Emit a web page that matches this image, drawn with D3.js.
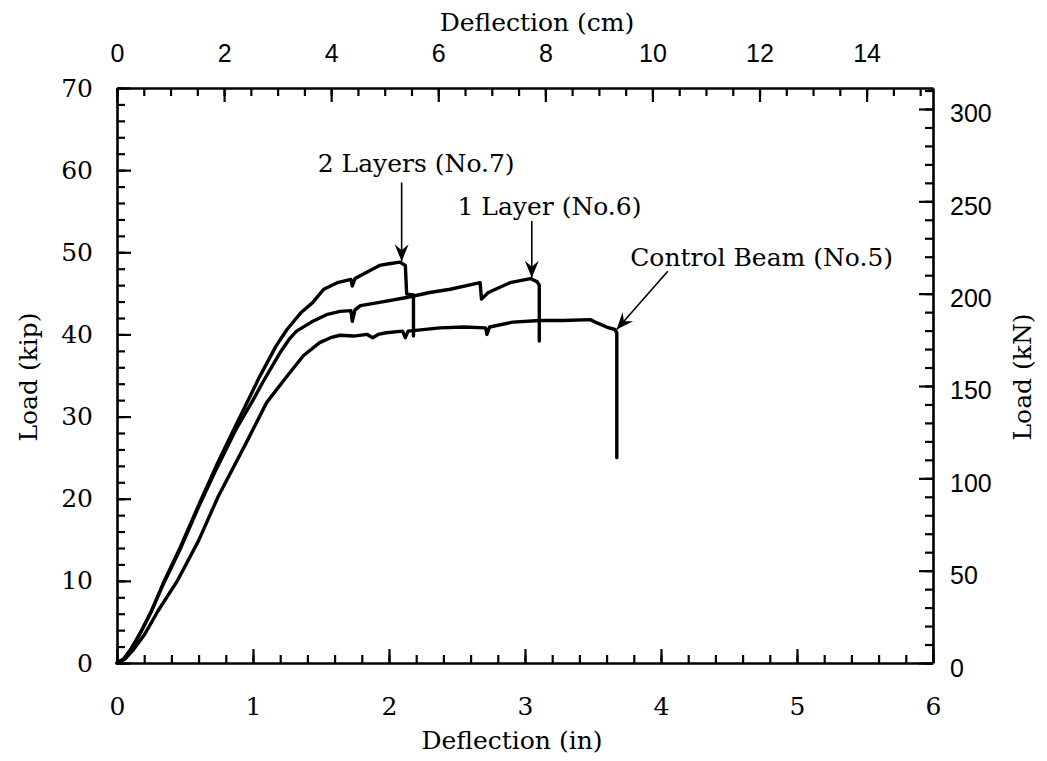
<!DOCTYPE html>
<meta charset="UTF-8">
<style>
body { margin: 0; background: #fff; }
.axis path.domain { stroke: #000; stroke-width: 2.6px; }
.axis line { stroke: #000; stroke-width: 2.2px; }
.serif text, text.serif { font-family: "DejaVu Serif", serif; font-size: 25px; fill: #000; }
.sans text { font-family: "Liberation Sans", Arial, sans-serif; font-size: 25px; fill: #000; }
.curve { fill: none; stroke: #000; stroke-width: 3.4px; stroke-linejoin: round; stroke-linecap: round; }
.arrow line { stroke: #000; stroke-width: 1.6px; }
</style>
<body>
<script src="https://d3js.org/d3.v7.min.js"></script>
<script>
// tick labels
var inTicks = [0, 1, 2, 3, 4, 5, 6];
var cmTicks = [0, 2, 4, 6, 8, 10, 12, 14];
var kipTicks = [0, 10, 20, 30, 40, 50, 60, 70];
var kNTicks = [0, 50, 100, 150, 200, 250, 300];

// load-deflection curves, [deflection (in), load (kip)]
var controlBeam = [[0,0],[0.06,0.5],[0.12,1.6],[0.2,3.4],[0.3,6.3],[0.44,9.9],[0.6,14.9],[0.745,20.3],
  [0.95,26.8],[1.10,31.7],[1.25,34.9],[1.37,37.4],[1.49,39.0],[1.57,39.6],[1.64,39.9],[1.74,39.8],
  [1.84,40.0],[1.88,39.6],[1.92,40.0],[1.98,40.2],[2.10,40.4],[2.12,39.6],[2.14,40.4],[2.375,40.8],
  [2.55,40.9],[2.71,40.8],[2.72,40.0],[2.74,40.9],[2.91,41.5],[3.11,41.7],[3.28,41.7],[3.48,41.8],
  [3.53,41.4],[3.60,40.9],[3.66,40.6],[3.675,40.2],[3.675,25.0]];

var oneLayer = [[0,0],[0.05,0.5],[0.1,1.6],[0.17,3.6],[0.25,6.2],[0.34,9.6],[0.46,13.7],[0.6,19.0],
  [0.73,23.6],[0.88,28.6],[1.0,32.0],[1.076,34.3],[1.14,36.1],[1.20,37.8],[1.27,39.5],[1.32,40.4],
  [1.39,41.1],[1.44,41.6],[1.54,42.4],[1.64,42.8],[1.72,42.9],[1.73,41.6],[1.75,43.0],[1.79,43.5],
  [1.93,43.9],[2.13,44.5],[2.30,45.1],[2.45,45.5],[2.67,46.3],[2.68,44.3],[2.73,45.1],[2.89,46.3],
  [3.04,46.8],[3.09,46.4],[3.105,46.0],[3.105,39.2]];

var twoLayers = [[0,0],[0.05,0.5],[0.1,1.6],[0.17,3.6],[0.25,6.2],[0.34,9.7],[0.46,13.9],[0.6,19.2],
  [0.73,24.0],[0.855,28.3],[0.95,31.5],[1.05,34.9],[1.17,38.6],[1.25,40.6],[1.30,41.6],[1.35,42.6],
  [1.44,43.9],[1.52,45.5],[1.62,46.3],[1.72,46.7],[1.73,45.9],[1.75,46.8],[1.84,47.6],[1.93,48.4],
  [2.0,48.6],[2.08,48.8],[2.12,48.4],[2.13,44.9],[2.18,44.8],[2.18,39.8]];

// callouts: label, label centre, arrow tail and tip (deflection in, load kip)
var callouts = [
  {text: "2 Layers (No.7)", lx: 2.20, ly: 60.9, x1: 2.093, y1: 58.5, x2: 2.093, y2: 48.9},
  {text: "1 Layer (No.6)", lx: 3.18, ly: 55.6, x1: 3.05, y1: 53.8, x2: 3.05, y2: 46.9},
  {text: "Control Beam (No.5)", lx: 4.74, ly: 49.4, x1: 4.05, y1: 47.7, x2: 3.674, y2: 40.6}
];

var width = 1047, height = 761;
var margin = {top: 88, right: 114, bottom: 98, left: 117};

var svg = d3.select("body").append("svg")
    .attr("width", width)
    .attr("height", height);

var x = d3.scaleLinear().domain([0, 6]).range([margin.left, width - margin.right]);
var y = d3.scaleLinear().domain([0, 70]).range([height - margin.bottom, margin.top]);
// secondary units
var xcm = d3.scaleLinear().domain([0, 6 * 2.54]).range(x.range());
var ykN = d3.scaleLinear().domain([0, 70 * 4.448]).range(y.range());

var bottom = height - margin.bottom, right = width - margin.right;
var fmt = d3.format("d");

// minor ticks first, majors on top
function minor(g) { g.select(".domain").remove(); }

svg.append("g").attr("class", "axis")
    .attr("transform", "translate(0," + bottom + ")")
    .call(d3.axisBottom(x).tickValues(d3.range(0, 6.01, 0.2)).tickSizeInner(-8).tickSizeOuter(0).tickFormat(""))
    .call(minor);
svg.append("g").attr("class", "axis")
    .attr("transform", "translate(0," + margin.top + ")")
    .call(d3.axisTop(xcm).tickValues(d3.range(0, 15.01, 0.5)).tickSizeInner(-8).tickSizeOuter(0).tickFormat(""))
    .call(minor);
svg.append("g").attr("class", "axis")
    .attr("transform", "translate(" + margin.left + ",0)")
    .call(d3.axisLeft(y).tickValues(d3.range(0, 70.01, 2)).tickSizeInner(-8).tickSizeOuter(0).tickFormat(""))
    .call(minor);
svg.append("g").attr("class", "axis")
    .attr("transform", "translate(" + right + ",0)")
    .call(d3.axisRight(ykN).tickValues(d3.range(0, 311, 10)).tickSizeInner(-8).tickSizeOuter(0).tickFormat(""))
    .call(minor);

svg.append("g").attr("class", "axis serif")
    .attr("transform", "translate(0," + bottom + ")")
    .call(d3.axisBottom(x).tickValues(inTicks).tickFormat(fmt).tickSizeInner(-14).tickSizeOuter(0).tickPadding(34));
svg.append("g").attr("class", "axis sans")
    .attr("transform", "translate(0," + margin.top + ")")
    .call(d3.axisTop(xcm).tickValues(cmTicks).tickFormat(fmt).tickSizeInner(-14).tickSizeOuter(0).tickPadding(26));
svg.append("g").attr("class", "axis serif")
    .attr("transform", "translate(" + margin.left + ",0)")
    .call(d3.axisLeft(y).tickValues(kipTicks).tickFormat(fmt).tickSizeInner(-14).tickSizeOuter(0).tickPadding(24));
svg.append("g").attr("class", "axis sans")
    .attr("transform", "translate(" + right + ",0)")
    .call(d3.axisRight(ykN).tickValues(kNTicks).tickFormat(fmt).tickSizeInner(-14).tickSizeOuter(0).tickPadding(17))
    .selectAll("text").attr("dy", "0.52em");

// axis titles
svg.append("text").attr("class", "serif")
    .attr("x", 537).attr("y", 22).attr("dy", "0.35em")
    .attr("text-anchor", "middle").text("Deflection (cm)");
svg.append("text").attr("class", "serif")
    .attr("x", 512).attr("y", 740).attr("dy", "0.35em")
    .attr("text-anchor", "middle").text("Deflection (in)");
svg.append("text").attr("class", "serif")
    .attr("transform", "translate(28,377) rotate(-90)").attr("dy", "0.35em")
    .attr("text-anchor", "middle").text("Load (kip)");
svg.append("text").attr("class", "serif")
    .attr("transform", "translate(1022,377) rotate(-90)").attr("dy", "0.35em")
    .attr("text-anchor", "middle").text("Load (kN)");

// curves
var line = d3.line()
    .x(function(d) { return x(d[0]); })
    .y(function(d) { return y(d[1]); });

svg.selectAll("path.curve")
    .data([controlBeam, oneLayer, twoLayers])
  .enter().append("path")
    .attr("class", "curve")
    .attr("d", line);

// callouts with barbed arrowheads
var ann = svg.selectAll("g.arrow")
    .data(callouts)
  .enter().append("g")
    .attr("class", "arrow");

ann.append("line")
    .attr("x1", function(d) { return x(d.x1); })
    .attr("y1", function(d) { return y(d.y1); })
    .attr("x2", function(d) { return x(d.x2); })
    .attr("y2", function(d) { return y(d.y2); });

ann.append("path")
    .attr("d", "M0,0L-17,-7L-11,0L-17,7Z")
    .attr("fill", "#000")
    .attr("transform", function(d) {
      var a = Math.atan2(y(d.y2) - y(d.y1), x(d.x2) - x(d.x1)) * 180 / Math.PI;
      return "translate(" + x(d.x2) + "," + y(d.y2) + ") rotate(" + a + ")";
    });

ann.append("text")
    .attr("class", "serif")
    .attr("x", function(d) { return x(d.lx); })
    .attr("y", function(d) { return y(d.ly); })
    .attr("dy", "0.35em")
    .attr("text-anchor", "middle")
    .text(function(d) { return d.text; });
</script>
</body>
